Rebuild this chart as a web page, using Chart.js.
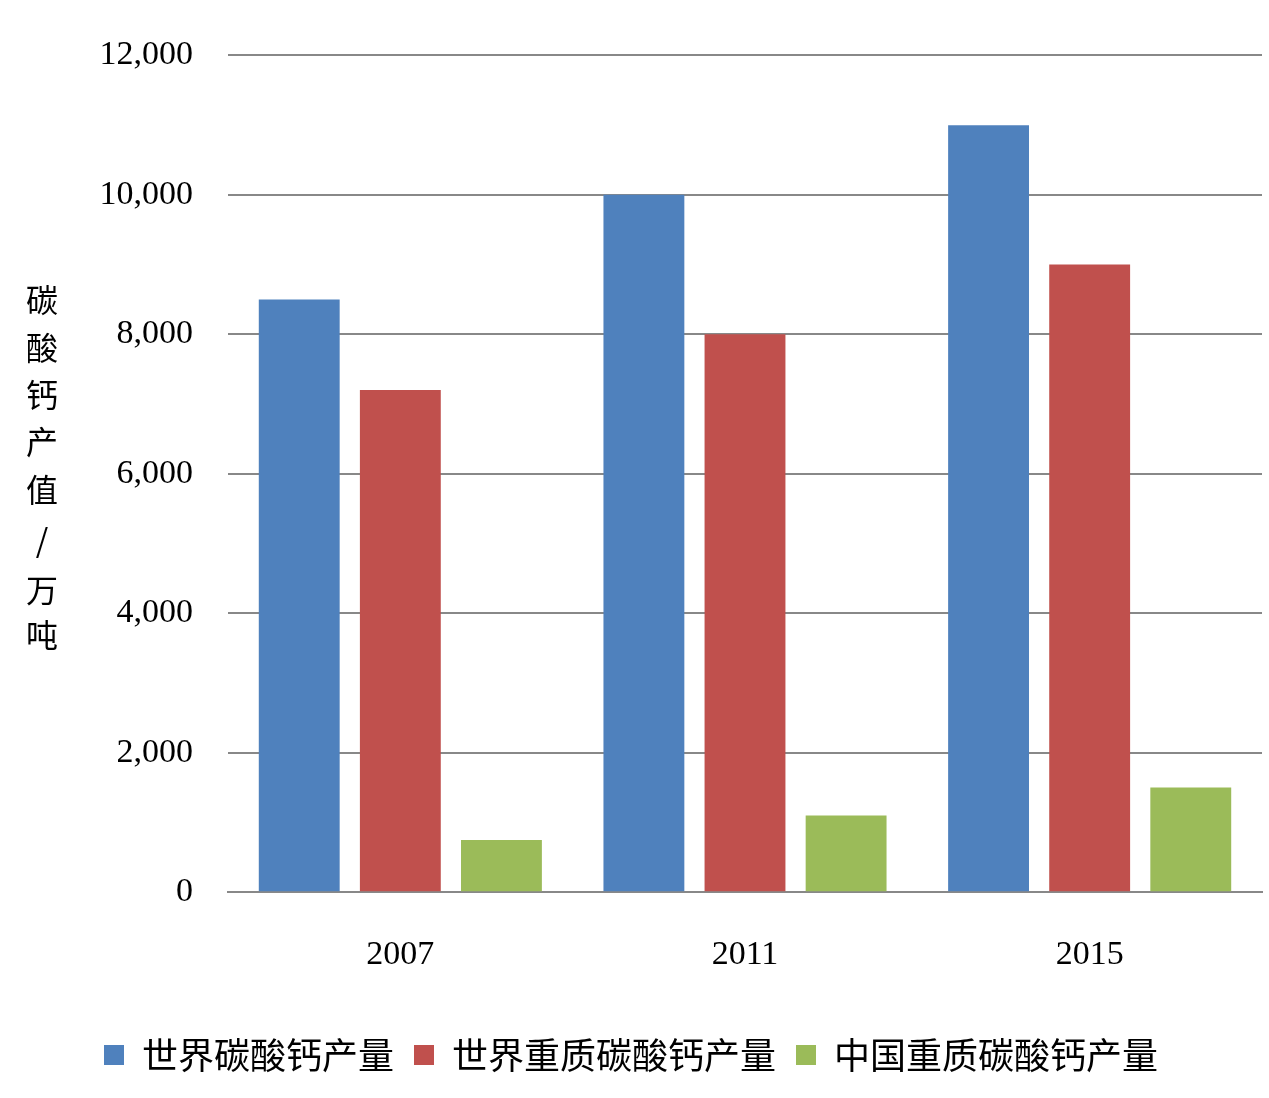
<!DOCTYPE html>
<html><head><meta charset="utf-8">
<script src="https://cdn.jsdelivr.net/npm/chart.js@4"></script>
<style>html,body{margin:0;padding:0;background:#fff}#wrap{width:1269px;height:1098px}</style>
</head><body><div id="wrap"><canvas id="c"></canvas></div>
<script>
const categories = ['2007', '2011', '2015'];
const worldTotal = [8500, 10000, 11000];
const worldHeavy = [7200, 8000, 9000];
const chinaHeavy = [750, 1100, 1500];
const seriesNames = ['世界碳酸钙产量', '世界重质碳酸钙产量', '中国重质碳酸钙产量'];
const yTitleChars = ['碳','酸','钙','产','值','/','万','吨'];

const serif = "'Liberation Serif','DejaVu Serif',serif";
const cjk = "'Noto Sans CJK SC','Liberation Serif',serif";

const yTitle = {
  id: 'yTitle',
  afterDraw(chart) {
    const ctx = chart.ctx;
    ctx.save();
    ctx.fillStyle = '#000';
    ctx.font = "32px " + cjk;
    ctx.textAlign = 'center';
    ctx.textBaseline = 'middle';
    const ys = [300, 348, 395, 442, 490, 540, 590, 635];
    yTitleChars.forEach((ch, i) => ctx.fillText(ch, 42, ys[i]));
    ctx.restore();
  }
};

new Chart(document.getElementById('c'), {
  type: 'bar',
  data: {
    labels: categories,
    datasets: [
      { label: seriesNames[0], data: worldTotal, backgroundColor: '#4F81BD' },
      { label: seriesNames[1], data: worldHeavy, backgroundColor: '#C0504D' },
      { label: seriesNames[2], data: chinaHeavy, backgroundColor: '#9BBB59' }
    ]
  },
  options: {
    responsive: true, maintainAspectRatio: false, animation: false,
    layout: { padding: { left: 0, right: 7, top: 16, bottom: 15 } },
    datasets: { bar: { categoryPercentage: 0.88, barPercentage: 0.8 } },
    plugins: {
      tooltip: { enabled: false },
      legend: {
        position: 'bottom',
        labels: { font: { size: 36, family: cjk }, color: '#000', boxWidth: 20, boxHeight: 20, padding: 20 }
      }
    },
    scales: {
      x: {
        grid: { display: false, drawTicks: false },
        border: { display: true, color: '#888', width: 2 },
        ticks: { font: { size: 34, family: serif }, color: '#000', padding: 42 }
      },
      y: {
        min: 0, max: 12000,
        afterFit(s) { s.width = 228; },
        grid: { color: '#888', lineWidth: 2, drawTicks: false },
        border: { display: false },
        ticks: { stepSize: 2000, font: { size: 34, family: serif }, color: '#000', padding: 35 }
      }
    }
  },
  plugins: [yTitle]
});
</script></body></html>
